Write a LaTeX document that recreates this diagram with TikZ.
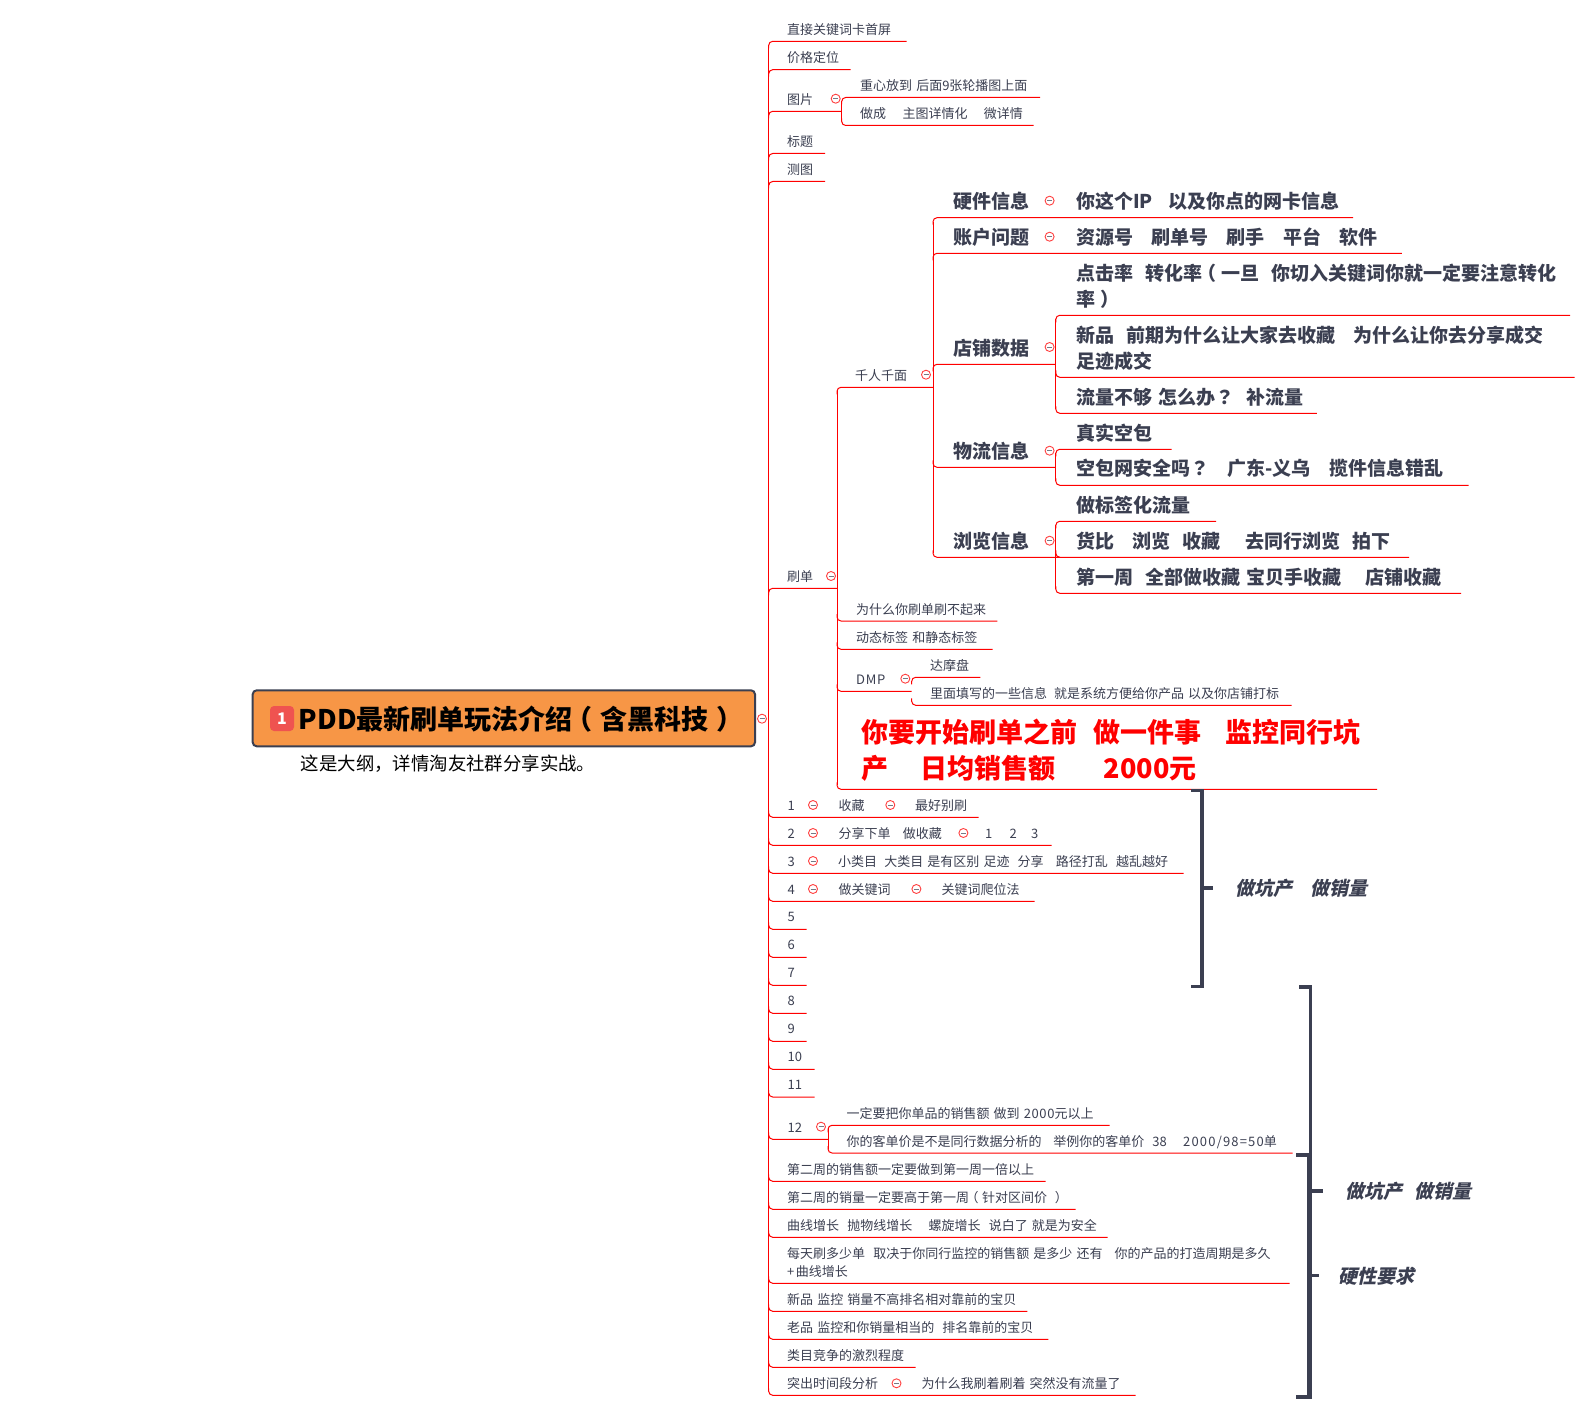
\documentclass[tikz,border=0pt]{standalone}
\usepackage{fontspec}
\setmainfont[WordSpace=1.4]{Noto Sans CJK SC}
\newfontfamily\tcf{Noto Sans CJK TC}
\newfontfamily\slf[FakeSlant=0.22,WordSpace=1.4]{Noto Sans CJK SC}
\newcommand{\tp}[1]{{\tcf #1}}
\newcommand{\lp}{\makebox[1em][l]{\hspace{-0.27em}（}}
\newcommand{\rp}{\makebox[1em][l]{\hspace{0.27em}）}}
\newcommand{\wide}[1]{{\addfontfeature{LetterSpace=5}#1}}
\newcommand{\wider}[1]{{\addfontfeature{LetterSpace=9}#1}}
\definecolor{ink}{HTML}{3B3F51}
\definecolor{rootfill}{HTML}{F79646}
\definecolor{badge}{HTML}{EF5350}
\tikzset{
  link/.style={draw=red,line width=1pt,rounded corners=4pt},
  trunk/.style={draw=red,line width=1pt,shorten <=4pt,shorten >=4pt},
  small/.style={inner sep=0pt,anchor=west,yshift=-0.7pt,text=ink,align=left,font=\fontsize{13}{18.4}\selectfont},
  mid/.style={inner sep=0pt,anchor=west,yshift=-0.7pt,text=ink,align=left,font=\fontsize{19}{26.3}\selectfont\bfseries},
  big/.style={inner sep=0pt,anchor=west,text=red,align=left,font=\fontsize{27}{35.6}\selectfont\bfseries},
  summ/.style={inner sep=0pt,anchor=west,yshift=-0.5pt,text=ink,font=\fontsize{19}{24}\slf\bfseries},
  tog/.style={circle,draw=red!75,fill=white,line width=0.9pt,minimum size=9pt,inner sep=0pt},
  togm/.style={draw=ink!70,line width=0.8pt},
  brk/.style={draw=ink,line width=3.4pt}
}
% name, trunk x, line y, end x, direction of the corner
\newcommand{\Under}[5]{%
  \coordinate (#1-l) at (#2,#3);
  \coordinate (#1-r) at (#4,#3);
  \draw[link] (#2,{#3+#5*7}) -- (#1-l) -- (#1-r);}
\newcommand{\Tog}[3]{%
  \node[tog] (#1) at (#2,#3) {};
  \draw[togm] ([xshift=-2.5pt]#1.center) -- ([xshift=2.5pt]#1.center);}
\begin{document}
\begin{tikzpicture}[x=1pt,y=-1pt]
\useasboundingbox (0,0) rectangle (1591,1415);
\fill[white] (0,0) rectangle (1591,1415);

% root
\node[draw=ink,fill=rootfill,line width=2pt,rounded corners=4pt,minimum width=502.3pt,minimum height=56pt,inner sep=0pt,anchor=north west] (root) at (251.7,689.3) {};
\node[fill=badge,rounded corners=4pt,minimum width=24pt,minimum height=25pt,inner sep=0pt,text=white,font=\fontsize{16}{16}\selectfont\bfseries] (badge1) at (282,718.5) {1};
\node[inner sep=0pt,anchor=west,text=black,font=\fontsize{27}{30}\selectfont\bfseries] (title) at (298.6,719.5) {PDD最新刷单玩法介绍\lp\kern1pt 含黑科技\rp};
\node[inner sep=0pt,anchor=west,text=black,font=\fontsize{18.4}{20}\selectfont] (note) at (300.6,764) {这是大纲，详情淘友社群分享实战。};
\Tog{troot}{762}{718.7}

% first level
\def\mx{768.7}
\node[small] (a1) at (787,29.3) {直接关键词卡首屏}; \Under{a1}{\mx}{41.3}{906.7}{1}
\node[small] (a2) at (787,57) {价格定位}; \Under{a2}{\mx}{69.7}{850.7}{1}
\node[small] (a3) at (787,99.3) {图片}; \Tog{t3}{835.7}{98.7} \Under{a3}{\mx}{111.3}{841.7}{1}
\node[small] (a31) at (860,84.9) {重心放到 后面9张轮播图上面}; \Under{a31}{841.7}{97.5}{1040}{1}
\node[small] (a32) at (860,113.3) {做成~~~~主图详情化~~~~微详情}; \Under{a32}{841.7}{125.5}{1033.7}{-1}
\draw[trunk] (a31-l) -- (a32-l);
\node[small] (a4) at (787,141.3) {标题}; \Under{a4}{\mx}{153.5}{825}{1}
\node[small] (a5) at (787,169.3) {测图}; \Under{a5}{\mx}{181.5}{825}{1}

% shuadan
\node[small] (s) at (787,576) {刷单}; \Tog{ts}{831}{576} \Under{s}{\mx}{588.3}{837}{1}
\node[small] (q) at (855,374.7) {千人千面}; \Tog{tq}{926}{374.7} \Under{q}{837}{387.3}{933}{1}

\node[mid] (b1) at (953,200.7) {硬件信息}; \Tog{tb1}{1049.6}{200.7}
\node[mid] (b1c) at (1076,200.7) {你这个IP~~~\kern-3pt 以及你点的网卡信息}; \Under{b1}{933}{217.7}{1353}{1}
\node[mid] (b2) at (953,236.7) {账户问题}; \Tog{tb2}{1049.6}{236.7}
\node[mid] (b2c) at (1076,236.7) {资源号~~~刷单号~~~刷手~~~平台~~~软件}; \Under{b2}{933}{253.3}{1401.8}{1}
\node[mid] (b3) at (953,347.6) {店铺数据}; \Tog{tb3}{1049.6}{347} \Under{b3}{933}{364.3}{1055.8}{1}
\node[mid] (b31) at (1076,285.8) {点击率~~转化率\lp 一旦~~你切入关键词你就一定要注意转化\\率\rp}; \Under{b31}{1055.8}{315.3}{1570}{1}
\node[mid] (b32) at (1076,347.5) {新品~~前期为什么让大家去收藏~~~为什么让你去分享成交\\足迹成交}; \Under{b32}{1055.8}{377.3}{1574.7}{-1}
\node[mid] (b33) at (1076,397) {流量不够 怎么办\tp{？}~~补流量}; \Under{b33}{1055.8}{413.3}{1316.8}{-1}
\draw[trunk] (b31-l) -- (b33-l);
\node[mid] (b4) at (953,450.7) {物流信息}; \Tog{tb4}{1049.6}{450.7} \Under{b4}{933}{467.3}{1055.8}{-1}
\node[mid] (b41) at (1076,432.2) {真实空包}; \Under{b41}{1055.8}{449.3}{1171.6}{1}
\node[mid] (b42) at (1076,468) {空包网安全吗\tp{？}~~~广东-义乌~~~揽件信息错乱}; \Under{b42}{1055.8}{485.3}{1468.7}{-1}
\draw[trunk] (b41-l) -- (b42-l);
\node[mid] (b5) at (953,540.3) {浏览信息}; \Tog{tb5}{1049.6}{540.7} \Under{b5}{933}{557.3}{1060}{-1}
\node[mid] (b51) at (1076,504.2) {做标签化流量}; \Under{b51}{1055.8}{521.3}{1216}{1}
\node[mid] (b52) at (1076,541) {货比~~~浏览~~收藏~~~~去同行浏览~~拍下}; \Under{b52}{1055.8}{557.3}{1409}{-1}
\node[mid] (b53) at (1076,577) {第一周~~全部做收藏 宝贝手收藏~~~~店铺收藏}; \Under{b53}{1055.8}{593.3}{1461}{-1}
\draw[trunk] (b51-l) -- (b53-l);
\draw[trunk] (b1-l) -- (b5-l);

\node[small] (c1) at (856,609.3) {为什么你刷单刷不起来}; \Under{c1}{837}{621}{997.4}{-1}
\node[small] (c2) at (856,636.9) {动态标签 和静态标签}; \Under{c2}{837}{649.3}{992.7}{-1}
\node[small] (c3) at (856,678.7) {\wide{DMP}}; \Tog{tc3}{905.3}{678.7} \Under{c3}{837}{691.3}{911.7}{-1}
\node[small] (c31) at (929.8,664.9) {达摩盘}; \Under{c31}{911.7}{677.3}{980.4}{1}
\node[small] (c32) at (929.8,692.9) {里面填写的一些信息~~\kern-1pt 就是系统方便给你产品 以及你店铺打标}; \Under{c32}{911.7}{705.3}{1291.5}{-1}
\node[big] (c4) at (861.5,750) {你要开始刷单之前~~\kern-2pt 做一件事~~~\kern-1pt 监控同行坑\\产~~~\kern6pt 日均销售额~~~~~\kern5pt 2000元}; \Under{c4}{837}{789.3}{1377}{-1}
\draw[trunk] (q-l) -- (c4-l);

% numbered rows
\node[small] (n1) at (787.5,805) {1}; \Tog{tn1}{813}{805}
\node[small] (n1a) at (838.5,805) {收藏}; \Tog{tn1a}{890.3}{805}
\node[small] (n1b) at (914.8,805) {最好别刷}; \Under{n1}{\mx}{817.3}{978.5}{-1}
\node[small] (n2) at (787.5,833) {2}; \Tog{tn2}{813}{833}
\node[small] (n2a) at (838.5,833) {分享下单~~~做收藏}; \Tog{tn2a}{963.4}{833}
\node[small] (n2b) at (985,833) {1~~~~\kern1pt 2~~~~\kern-2pt 3}; \Under{n2}{\mx}{845.3}{1051.6}{-1}
\node[small] (n3) at (787.5,861) {3}; \Tog{tn3}{813}{861}
\node[small] (n3a) at (838,860.4) {小类目~~\kern-1pt 大类目 是有区别 足迹~~分享~~~路径打乱~~越乱越好}; \Under{n3}{\mx}{873.3}{1183.6}{-1}
\node[small] (n4) at (787.5,889) {4}; \Tog{tn4}{813}{889}
\node[small] (n4a) at (838.5,889) {做关键词}; \Tog{tn4a}{916.4}{889}
\node[small] (n4b) at (941.3,889) {关键词爬位法}; \Under{n4}{\mx}{901.3}{1034.6}{-1}
\node[small] (n5) at (787.5,916.5) {5}; \Under{n5}{\mx}{929.3}{806.5}{-1}
\node[small] (n6) at (787.5,944.5) {6}; \Under{n6}{\mx}{957.3}{806.5}{-1}
\node[small] (n7) at (787.5,972.5) {7}; \Under{n7}{\mx}{985.3}{806.5}{-1}
\node[small] (n8) at (787.5,1000.5) {8}; \Under{n8}{\mx}{1013.3}{806.5}{-1}
\node[small] (n9) at (787.5,1028.5) {9}; \Under{n9}{\mx}{1041.3}{806.5}{-1}
\node[small] (n10) at (787.5,1056.5) {10}; \Under{n10}{\mx}{1069.3}{814.7}{-1}
\node[small] (n11) at (787.5,1084.5) {11}; \Under{n11}{\mx}{1097}{814.7}{-1}
\node[small] (n12) at (787.5,1127.3) {12}; \Tog{tn12}{821}{1126.7} \Under{n12}{\mx}{1139.3}{828}{-1}
\node[small] (n121) at (846.4,1113.3) {一定要把你单品的销售额 做到 \wide{2000}元以上}; \Under{n121}{828}{1125.3}{1109.5}{1}
\node[small] (n122) at (846.4,1141.3) {你的客单价是不是同行数据分析的~~~\kern-.5pt 举例你的客单价~~38~~~~\wider{2000/98=50}单}; \Under{n122}{828}{1153}{1292.7}{-1}
\draw[trunk] (n121-l) -- (n122-l);
\node[small] (d1) at (787,1169.3) {第二周的销售额一定要做到第一周一倍以上}; \Under{d1}{\mx}{1181.3}{1045.7}{-1}
\node[small] (d2) at (787,1197.3) {第二周的销量一定要高于第一周\lp 针对区间价~\rp}; \Under{d2}{\mx}{1209.3}{1075.5}{-1}
\node[small] (d3) at (787,1224.6) {曲线增长~~抛物线增长~~~~螺旋增长~~说白了 就是为安全}; \Under{d3}{\mx}{1237.3}{1107.7}{-1}
\node[small] (d4) at (787,1262) {每天刷多少单~~取决于你同行监控的销售额 是多少 还有~~~你的产品的打造周期是多久\\+\kern1.5pt 曲线增长}; \Under{d4}{\mx}{1283.3}{1289.5}{-1}
\node[small] (d5) at (787,1298.5) {新品 监控 销量不高排名相对靠前的宝贝}; \Under{d5}{\mx}{1311.3}{1027.3}{-1}
\node[small] (d6) at (787,1327.3) {老品 监控和你销量相当的~~排名靠前的宝贝}; \Under{d6}{\mx}{1339.3}{1048.4}{-1}
\node[small] (d7) at (787,1355.3) {类目竞争的激烈程度}; \Under{d7}{\mx}{1367.3}{915.7}{-1}
\node[small] (d8) at (787,1383.3) {突出时间段分析}; \Tog{td8}{896.5}{1383.3}
\node[small] (d8a) at (921.3,1383.3) {为什么我刷着刷着 突然没有流量了}; \Under{d8}{\mx}{1395.3}{1135.5}{-1}
\draw[trunk] (a1-l) -- (d8-l);

% summary brackets
\coordinate (k1t) at (1190.7,790.7); \coordinate (k1b) at (1190.7,986.7);
\coordinate (k1m) at (1213,888);
\draw[brk] (k1t) -| (1201.8,986.7) -- (k1b);
\draw[brk] (1201.8,888) -- (k1m);
\node[summ] (s1) at (1235.5,888) {做坑产~~~做销量};

\coordinate (k2t) at (1299,987); \coordinate (k2b) at (1299,1397);
\coordinate (k2m) at (1323,1191);
\draw[brk] (k2t) -| (1310.5,1397) -- (k2b);
\draw[brk] (1310.5,1191) -- (k2m);
\node[summ] (s2) at (1345,1191) {做坑产~~做销量};

\coordinate (k3t) at (1296,1155); \coordinate (k3b) at (1296,1397);
\coordinate (k3m) at (1319,1275.3);
\draw[brk] (k3t) -| (1308.5,1397) -- (k3b);
\draw[brk] (1308.5,1275.3) -- (k3m);
\node[summ] (s3) at (1338.5,1275.3) {硬性要求};
\end{tikzpicture}
\end{document}
